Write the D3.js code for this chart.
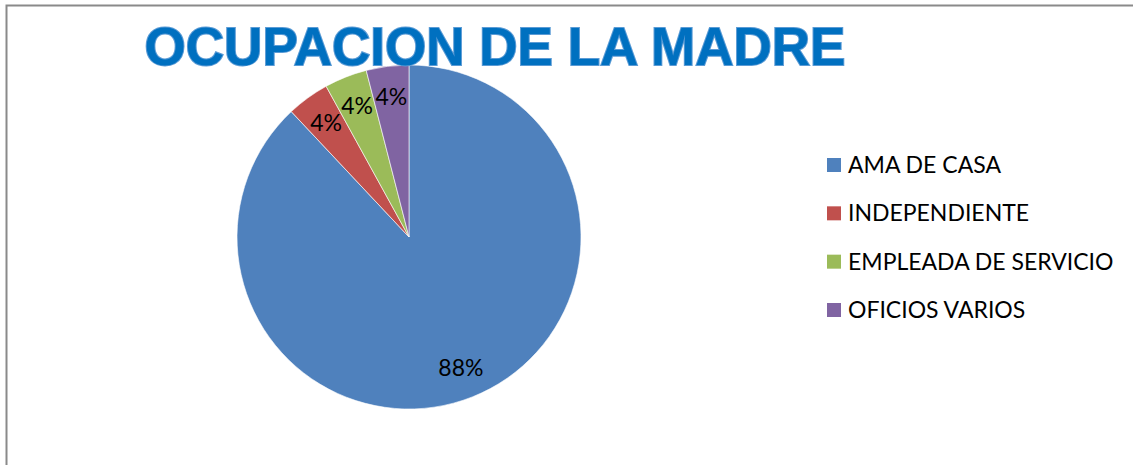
<!DOCTYPE html>
<html lang="es">
<head>
  <meta charset="UTF-8">
  <title>Ocupacion de la madre</title>
  <style>
    body { margin: 0; background: #fff; }
    .title {
      font-family: "Liberation Sans", Arial, sans-serif;
      font-weight: bold;
      font-size: 53px;
      fill: #0070c0;
      stroke: #5b9bd5;
      stroke-width: 2px;
      paint-order: stroke;
    }
    .lbl, .legend text {
      font-family: Lato, "Open Sans", sans-serif;
      font-size: 23px;
      fill: #000;
    }
  </style>
  <script src="https://d3js.org/d3.v7.min.js"></script>
</head>
<body>
<svg id="chart"></svg>
<script>
  var categories = ['AMA DE CASA', 'INDEPENDIENTE', 'EMPLEADA DE SERVICIO', 'OFICIOS VARIOS'];
  var values = [88, 4, 4, 4];
  var colors = ['#4f81bd', '#c0504d', '#9bbb59', '#8064a2'];
  var title = 'OCUPACION DE LA MADRE';

  var width = 1133, height = 465;
  var cx = 409, cy = 237, radius = 172;

  var svg = d3.select('#chart')
    .attr('width', width)
    .attr('height', height);

  // chart frame (only top/left visible in the crop)
  svg.append('rect')
    .attr('x', 6.5).attr('y', 5.5)
    .attr('width', width + 20).attr('height', height + 20)
    .attr('fill', 'none')
    .attr('stroke', '#8a8a8a')
    .attr('stroke-width', 2);

  var color = d3.scaleOrdinal().domain(categories).range(colors);

  var pie = d3.pie().sort(null).value(function(d){ return d.value; });
  var data = categories.map(function(c, i){ return { name: c, value: values[i] }; });
  var arcs = pie(data);
  var total = d3.sum(values);

  var arc = d3.arc().innerRadius(0).outerRadius(radius);
  var labelArc = d3.arc().innerRadius(radius * 0.82).outerRadius(radius * 0.82);

  var g = svg.append('g').attr('transform', 'translate(' + cx + ',' + cy + ')');

  g.selectAll('path')
    .data(arcs)
    .enter().append('path')
    .attr('d', arc)
    .attr('fill', function(d){ return color(d.data.name); })
    .attr('stroke', '#fff')
    .attr('stroke-width', 0.6);

  g.selectAll('text')
    .data(arcs)
    .enter().append('text')
    .attr('class', 'lbl')
    .attr('transform', function(d){ return 'translate(' + labelArc.centroid(d) + ')'; })
    .attr('text-anchor', 'middle')
    .attr('dy', '0.35em')
    .text(function(d){ return Math.round(d.data.value / total * 100) + '%'; });

  // title
  svg.append('text')
    .attr('class', 'title')
    .attr('x', 495)
    .attr('y', 65)
    .attr('text-anchor', 'middle')
    .text(title);

  // legend
  var legendY = d3.scalePoint().domain(categories).range([165, 310]);
  var legend = svg.append('g').attr('class', 'legend');
  var item = legend.selectAll('g')
    .data(categories)
    .enter().append('g')
    .attr('transform', function(d){ return 'translate(827,' + legendY(d) + ')'; });
  item.append('rect')
    .attr('x', 0).attr('y', -7)
    .attr('width', 14).attr('height', 14)
    .attr('fill', function(d){ return color(d); });
  item.append('text')
    .attr('x', 21)
    .attr('y', 8)
    .text(function(d){ return d; });
</script>
</body>
</html>
